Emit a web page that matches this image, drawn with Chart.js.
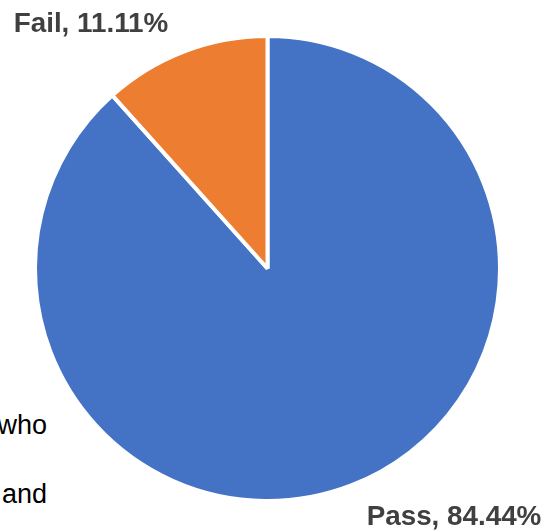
<!DOCTYPE html>
<html>
<head>
<meta charset="utf-8">
<script src="https://cdn.jsdelivr.net/npm/chart.js@4"></script>
<style>
  html, body { margin:0; padding:0; background:#fff; }
  #wrap { position:relative; width:544px; height:531px; overflow:hidden; }
  #pie { position:absolute; left:0; top:0; }
  .doc { position:absolute; right:497px; font:27px "Liberation Sans", Arial, sans-serif; color:#000; white-space:nowrap; line-height:1; }
</style>
</head>
<body>
<div id="wrap">
  <div class="doc" style="top:412px">who</div>
  <div class="doc" style="top:481px">and</div>
  <canvas id="pie" width="544" height="531"></canvas>
</div>
<script>
// ---------------- DATA ----------------
const categories = ["Pass", "Fail"];
const percents = [84.44, 11.11];
const colors = ["#4472C4", "#ED7D31"];

// label spots (center x, baseline y) for each category
const labelSpots = [[454, 525], [91, 32]];

const sliceLabels = {
  id: "sliceLabels",
  afterDraw(chart){
    const ctx = chart.ctx;
    ctx.save();
    ctx.font = "bold 27.8px 'Liberation Sans', Arial, sans-serif";
    ctx.fillStyle = "#404040";
    ctx.textAlign = "center";
    ctx.textBaseline = "alphabetic";
    categories.forEach((c, i) => {
      ctx.fillText(`${c}, ${percents[i].toFixed(2)}%`, labelSpots[i][0], labelSpots[i][1]);
    });
    ctx.restore();
  }
};

new Chart(document.getElementById("pie").getContext("2d"), {
  type: "pie",
  data: {
    labels: categories,
    datasets: [{
      data: percents,
      backgroundColor: colors,
      borderColor: "#ffffff",
      borderWidth: 4
    }]
  },
  options: {
    responsive: false,
    animation: false,
    layout: { padding: { left: 33, top: 34, right: 42, bottom: 28 } },
    plugins: {
      legend: { display: false },
      tooltip: { enabled: false }
    }
  },
  plugins: [sliceLabels]
});
</script>
</body>
</html>
